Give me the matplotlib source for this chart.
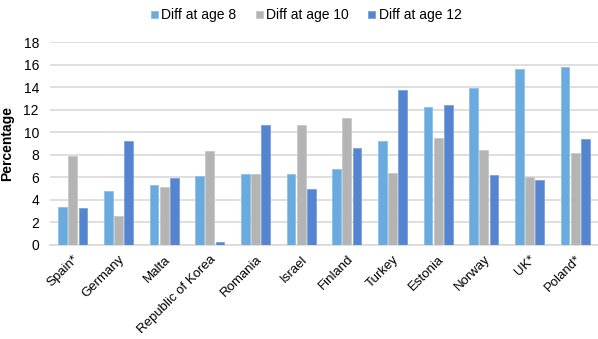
import numpy as np
import matplotlib
matplotlib.use("Agg")
import matplotlib.pyplot as plt

plt.rcParams['font.family'] = ['Liberation Sans', 'DejaVu Sans']

countries = ['Spain*', 'Germany', 'Malta', 'Republic of Korea', 'Romania', 'Israel',
             'Finland', 'Turkey', 'Estonia', 'Norway', 'UK*', 'Poland*']
age8 = [3.4, 4.8, 5.3, 6.1, 6.3, 6.3, 6.7, 9.2, 12.2, 13.9, 15.6, 15.8]
age10 = [7.9, 2.6, 5.1, 8.3, 6.3, 10.6, 11.3, 6.4, 9.5, 8.4, 6.0, 8.2]
age12 = [3.3, 9.2, 5.9, 0.3, 10.6, 5.0, 8.6, 13.7, 12.4, 6.2, 5.8, 9.4]
series_names = ['Diff at age 8', 'Diff at age 10', 'Diff at age 12']

colors = ['#6aabdf', '#b4b4b4', '#5585d0']
edges = ['#8cc0ea', '#c8c8c8', '#7aa2de']

fig = plt.figure(figsize=(5.98, 3.39), dpi=100)
ax = fig.add_axes([50 / 598, 1 - 245 / 339, 548 / 598, 203 / 339])

x = np.arange(len(countries))
width = 0.19
step = 0.22
for i, (vals, name) in enumerate(zip([age8, age10, age12], series_names)):
    ax.bar(x + (i - 1) * step, vals, width, color=colors[i], label=name,
           edgecolor=edges[i], linewidth=0.6, zorder=3)

ax.set_xlim(-0.5, len(countries) - 0.5)
ax.set_ylim(0, 18)
ax.set_yticks(np.arange(0, 19, 2))
ax.yaxis.grid(True, color='#d9d9d9', linewidth=1.2, zorder=0)
ax.set_axisbelow(True)
for s in ['top', 'right', 'left']:
    ax.spines[s].set_visible(False)
ax.spines['bottom'].set_color('#d9d9d9')
ax.spines['bottom'].set_linewidth(1.2)
ax.tick_params(axis='y', length=0, labelsize=10, pad=8)
ax.set_xticks(x)
ax.set_xticklabels(countries, rotation=45, ha='right', rotation_mode='anchor')
ax.tick_params(axis='x', length=0, labelsize=9.5, pad=6)
ax.set_ylabel('Percentage', fontsize=10, fontweight='bold')
ax.yaxis.set_label_coords(-0.066, 0.5)

fig.legend(loc='upper center', bbox_to_anchor=(0.512, 1.012), ncol=3, frameon=False,
           fontsize=10, handlelength=0.5, handleheight=0.5, handletextpad=0.25,
           columnspacing=1.4)

fig.savefig('out.png', dpi=100)
